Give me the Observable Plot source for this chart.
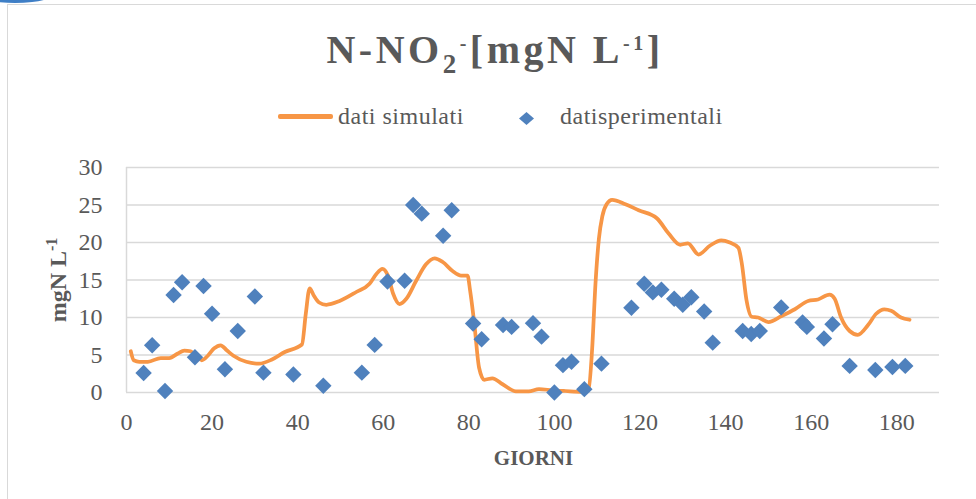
<!DOCTYPE html>
<html>
<head>
<meta charset="utf-8">
<script src="https://cdn.jsdelivr.net/npm/d3@7"></script>
<script src="https://cdn.jsdelivr.net/npm/@observablehq/plot@0.6"></script>
<style>
  html, body { margin: 0; padding: 0; background: #fff; }
  #wrap { position: relative; width: 976px; height: 499px; overflow: hidden; background: #fff;
          font-family: "Liberation Serif", serif; color: #595959; }
  #frame { position: absolute; left: 7px; top: 4px; width: 1100px; height: 700px;
           border: 1.5px solid #d9d9d9; }
  #blob { position: absolute; left: -30px; top: -23px; width: 90px; height: 26px; border-radius: 50%;
          background: #3f7fc6; }
  #title { position: absolute; left: 0; width: 990px; top: 30px; text-align: center;
           font-weight: bold; font-size: 40px; line-height: 40px; letter-spacing: 3.5px; white-space: nowrap; }
  #title .sub { position: relative; top: 10px; font-size: 27px; }
  #title .sup { position: relative; top: -13px; font-size: 20px; }
  .leg { position: absolute; font-size: 24px; line-height: 24px; letter-spacing: 0.5px; white-space: nowrap; }
  #ytitle { position: absolute; left: 59px; top: 280px; transform: translate(-50%, -50%) rotate(-90deg);
            font-weight: bold; font-size: 24px; line-height: 24px; white-space: nowrap; }
  #ytitle .sup { position: relative; top: -9px; font-size: 16px; }
  #xtitle { position: absolute; left: 0; width: 1067px; text-align: center; top: 448px;
            font-weight: bold; font-size: 21px; line-height: 21px; }
  #chart { position: absolute; left: 0; top: 140px; }
</style>
</head>
<body>
<div id="wrap">
  <div id="frame"></div>
  <div id="blob"></div>
  <div id="title">N-NO<span class="sub">2</span><span class="sup">-</span>[mgN L<span class="sup">-1</span>]</div>
  <div style="position:absolute;left:278px;top:114px;width:55px;height:4.5px;border-radius:2px;background:#f79646;"></div>
  <div class="leg" style="left:338px;top:104px;">dati simulati</div>
  <svg style="position:absolute;left:518px;top:112px;" width="17" height="13"><path d="M8.5,0L16,6.5L8.5,13L1,6.5Z" fill="#4f81bd"/></svg>
  <div class="leg" style="left:560px;top:104px;">datisperimentali</div>
  <div id="ytitle">mgN L<span class="sup">-1</span></div>
  <div id="xtitle">GIORNI</div>
  <div id="chart"></div>
</div>
<script>
// Tick labels
const dayTicks = [0, 20, 40, 60, 80, 100, 120, 140, 160, 180];
const valueTicks = [0, 5, 10, 15, 20, 25, 30];

// "dati simulati" (simulated series)
const simDays = [1, 1.7, 3, 5, 8, 10, 12, 13.5, 15, 16.5, 17.6, 19, 20.5, 22, 23.5, 25, 28, 31, 34, 37, 41,
  41.9, 42.8, 43.8, 45, 46.7, 49.8, 53.7, 56.8, 58.4, 59.8, 61.1, 62.3, 63.8, 65.4, 67.7, 70, 72, 73.9, 76.2,
  78.2, 79.7, 80.3, 81.3, 82.4, 83.6, 85.5, 87.9, 91, 94, 96.4, 99.5, 102.6, 106.5, 108, 108.8, 109.6, 110.4,
  111.2, 112.2, 113.5, 116.6, 119.7, 124, 126.7, 129.4, 131.2, 133.7, 136.4, 139, 141, 143, 143.8, 144.9,
  146.1, 147.6, 150, 153.1, 156.2, 159.3, 161.6, 164.3, 165.5, 167, 169, 170.9, 173.3, 175.2, 177.1, 178.7, 181, 183];
const simValues = [5.5, 4.3, 4.1, 4.1, 4.6, 4.6, 5.2, 5.6, 5.5, 4.8, 4.3, 4.9, 5.9, 6.3, 5.6, 4.9, 4.1, 3.85, 4.4, 5.4, 6.4,
  10.5, 13.9, 12.9, 12.0, 11.7, 12.2, 13.4, 14.5, 15.8, 16.5, 15.6, 13.2, 11.8, 12.5, 14.9, 17.1, 17.9, 17.4, 16.2,
  15.6, 15.6, 13.6, 9.1, 3.3, 1.7, 1.9, 1.1, 0.15, 0.15, 0.45, 0.3, 0.2, 0.1, 0.5, 5.6, 14.5, 20.5,
  23.5, 25.1, 25.7, 25.1, 24.3, 23.2, 21.2, 19.7, 19.9, 18.4, 19.6, 20.3, 20.0, 19.3, 17.2, 12.3,
  10.1, 10.0, 9.4, 10.2, 11.1, 12.2, 12.4, 13.05, 12.5, 10.0, 8.2, 7.7, 9.0, 10.5, 11.1, 10.9, 10.0, 9.7];

// "datisperimentali" (experimental series)
const expDays = [4, 6, 9, 11, 13, 16, 18, 20, 23, 26, 30, 32, 39, 46, 55, 58, 61, 65, 67, 69, 74, 76, 81, 83,
  88, 90, 95, 97, 100, 102, 104, 107, 111, 118, 121, 123, 125, 128, 130, 132, 135, 137, 144, 146, 148, 153,
  158, 159, 163, 165, 169, 175, 179, 182];
const expValues = [2.6, 6.3, 0.2, 13.0, 14.7, 4.7, 14.2, 10.5, 3.1, 8.2, 12.8, 2.65, 2.4, 0.9, 2.65, 6.35, 14.8, 14.9, 25.0, 23.85, 20.9, 24.3, 9.2, 7.1,
  9.0, 8.75, 9.25, 7.45, 0.0, 3.65, 4.1, 0.45, 3.85, 11.3, 14.5, 13.35, 13.7, 12.5, 11.7, 12.7, 10.8, 6.65, 8.2, 7.8, 8.2, 11.35,
  9.35, 8.75, 7.2, 9.1, 3.55, 3.0, 3.4, 3.55];

const sim = simDays.map((d, i) => ({day: d, value: simValues[i]}));
const exp = expDays.map((d, i) => ({day: d, value: expValues[i]}));

const chart = Plot.plot({
  width: 976,
  height: 359,
  marginTop: 27,
  marginBottom: 107,
  marginLeft: 126,
  marginRight: 37,
  x: {domain: [0, 190], label: null},
  y: {domain: [0, 30], label: null},
  style: {background: "transparent", fontFamily: "'Liberation Serif', serif", fontSize: "24px", color: "#595959", overflow: "visible"},
  marks: [
    Plot.ruleY(valueTicks, {stroke: "#d9d9d9", strokeWidth: 1.5}),
    Plot.ruleX([0], {stroke: "#d9d9d9", strokeWidth: 1.5}),
    Plot.axisX({ticks: dayTicks, tickSize: 0, tickPadding: 20, label: null}),
    Plot.axisY({ticks: valueTicks, tickSize: 0, tickPadding: 24, label: null}),
    Plot.line(sim, {x: "day", y: "value", curve: "monotone-x", stroke: "#f79646", strokeWidth: 3.75,
      strokeLinecap: "round", strokeLinejoin: "round"}),
    Plot.dot(exp, {x: "day", y: "value", symbol: "diamond2", r: 7.4, fill: "#4f81bd", stroke: "none"})
  ]
});
document.getElementById("chart").appendChild(chart);
</script>
</body>
</html>
